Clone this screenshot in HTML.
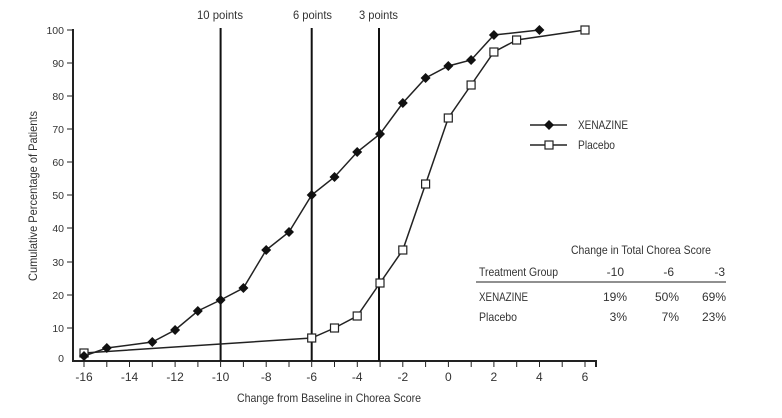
<!DOCTYPE html>
<html><head><meta charset="utf-8"><style>
html,body{margin:0;padding:0;background:#fff;}
svg text{font-family:"Liberation Sans Narrow","Liberation Sans",sans-serif;fill:#333;}
</style></head><body>
<svg width="782" height="413" viewBox="0 0 782 413" xmlns="http://www.w3.org/2000/svg">
<g font-size="10.5">
<line x1="73" y1="29" x2="73" y2="362" stroke="#222" stroke-width="2"/>
<line x1="72" y1="361" x2="597" y2="361" stroke="#222" stroke-width="2"/>
<line x1="596" y1="361" x2="596" y2="367" stroke="#222" stroke-width="2"/>
<g stroke="#222" stroke-width="1">
<line x1="67" y1="30" x2="73" y2="30"/><line x1="67" y1="63" x2="73" y2="63"/><line x1="67" y1="96" x2="73" y2="96"/><line x1="67" y1="129" x2="73" y2="129"/><line x1="67" y1="162" x2="73" y2="162"/><line x1="67" y1="195" x2="73" y2="195"/><line x1="67" y1="228" x2="73" y2="228"/><line x1="67" y1="262" x2="73" y2="262"/><line x1="67" y1="295" x2="73" y2="295"/><line x1="67" y1="328" x2="73" y2="328"/>
</g>
<g text-anchor="end">
<text x="64" y="34">100</text><text x="64" y="67">90</text><text x="64" y="100">80</text><text x="64" y="133">70</text><text x="64" y="166">60</text><text x="64" y="199">50</text><text x="64" y="232">40</text><text x="64" y="266">30</text><text x="64" y="299">20</text><text x="64" y="332">10</text><text x="64" y="362">0</text>
</g>
<g stroke="#222" stroke-width="1">
<line x1="84" y1="361" x2="84" y2="367"/><line x1="106.8" y1="361" x2="106.8" y2="367"/><line x1="129.5" y1="361" x2="129.5" y2="367"/><line x1="152.3" y1="361" x2="152.3" y2="367"/><line x1="175.1" y1="361" x2="175.1" y2="367"/><line x1="197.9" y1="361" x2="197.9" y2="367"/><line x1="220.6" y1="361" x2="220.6" y2="367"/><line x1="243.4" y1="361" x2="243.4" y2="367"/><line x1="266.2" y1="361" x2="266.2" y2="367"/><line x1="289" y1="361" x2="289" y2="367"/><line x1="311.7" y1="361" x2="311.7" y2="367"/><line x1="334.5" y1="361" x2="334.5" y2="367"/><line x1="357.3" y1="361" x2="357.3" y2="367"/><line x1="380.1" y1="361" x2="380.1" y2="367"/><line x1="402.8" y1="361" x2="402.8" y2="367"/><line x1="425.6" y1="361" x2="425.6" y2="367"/><line x1="448.4" y1="361" x2="448.4" y2="367"/><line x1="471.2" y1="361" x2="471.2" y2="367"/><line x1="493.9" y1="361" x2="493.9" y2="367"/><line x1="516.7" y1="361" x2="516.7" y2="367"/><line x1="539.5" y1="361" x2="539.5" y2="367"/><line x1="562.2" y1="361" x2="562.2" y2="367"/><line x1="585" y1="361" x2="585" y2="367"/>
</g>
<g text-anchor="middle" font-size="12">
<text x="84" y="381">-16</text><text x="129.5" y="381">-14</text><text x="175.1" y="381">-12</text><text x="220.6" y="381">-10</text><text x="266.2" y="381">-8</text><text x="311.7" y="381">-6</text><text x="357.2" y="381">-4</text><text x="402.8" y="381">-2</text><text x="448.3" y="381">0</text><text x="493.9" y="381">2</text><text x="539.4" y="381">4</text><text x="585" y="381">6</text>
</g>
<text x="237" y="402" font-size="12" textLength="184" lengthAdjust="spacingAndGlyphs">Change from Baseline in Chorea Score</text>
<text transform="translate(37,196) rotate(-90)" text-anchor="middle" font-size="12" textLength="170" lengthAdjust="spacingAndGlyphs">Cumulative Percentage of Patients</text>
<g stroke="#111" stroke-width="2">
<line x1="220.6" y1="28" x2="220.6" y2="361"/><line x1="311.7" y1="28" x2="311.7" y2="361"/><line x1="379" y1="28" x2="379" y2="361"/>
</g>
<g font-size="12">
<text x="197" y="19" textLength="46" lengthAdjust="spacingAndGlyphs">10 points</text><text x="293" y="19" textLength="39" lengthAdjust="spacingAndGlyphs">6 points</text><text x="359" y="19" textLength="39" lengthAdjust="spacingAndGlyphs">3 points</text>
</g>
<polyline fill="none" stroke="#222" stroke-width="1.5" points="84,356 106.8,348 152.3,342 175.1,330 197.8,311 220.6,300 243.4,288 266.2,250 289,232 311.7,195 334.5,177 357.2,152 380,134 402.8,103 425.6,78 448.3,66 471.1,60 493.9,35 539.4,30"/>
<polyline fill="none" stroke="#222" stroke-width="1.5" points="84,353 311.7,338 334.5,328 357.2,316 380,283 402.8,250 425.6,184 448.3,118 471.1,85 493.9,52 516.6,40 585,30"/>
<g fill="#fff" stroke="#222" stroke-width="1.2">
<rect x="80" y="349" width="8" height="8"/><rect x="307.7" y="334" width="8" height="8"/><rect x="330.5" y="324" width="8" height="8"/><rect x="353.2" y="312" width="8" height="8"/><rect x="376" y="279" width="8" height="8"/><rect x="398.8" y="246" width="8" height="8"/><rect x="421.6" y="180" width="8" height="8"/><rect x="444.3" y="114" width="8" height="8"/><rect x="467.1" y="81" width="8" height="8"/><rect x="489.9" y="48" width="8" height="8"/><rect x="512.6" y="36" width="8" height="8"/><rect x="581" y="26" width="8" height="8"/>
</g>
<g fill="#111">
<path d="M84 351l5 5-5 5-5-5z"/><path d="M106.8 343l5 5-5 5-5-5z"/><path d="M152.3 337l5 5-5 5-5-5z"/><path d="M175.1 325l5 5-5 5-5-5z"/><path d="M197.8 306l5 5-5 5-5-5z"/><path d="M220.6 295l5 5-5 5-5-5z"/><path d="M243.4 283l5 5-5 5-5-5z"/><path d="M266.2 245l5 5-5 5-5-5z"/><path d="M289 227l5 5-5 5-5-5z"/><path d="M311.7 190l5 5-5 5-5-5z"/><path d="M334.5 172l5 5-5 5-5-5z"/><path d="M357.2 147l5 5-5 5-5-5z"/><path d="M380 129l5 5-5 5-5-5z"/><path d="M402.8 98l5 5-5 5-5-5z"/><path d="M425.6 73l5 5-5 5-5-5z"/><path d="M448.3 61l5 5-5 5-5-5z"/><path d="M471.1 55l5 5-5 5-5-5z"/><path d="M493.9 30l5 5-5 5-5-5z"/><path d="M539.4 25l5 5-5 5-5-5z"/>
</g>
<line x1="530" y1="125" x2="567" y2="125" stroke="#222" stroke-width="1.5"/>
<path d="M549 120 L554 125 L549 130 L544 125Z" fill="#111"/>
<line x1="530" y1="145" x2="567" y2="145" stroke="#222" stroke-width="1.5"/>
<rect x="545" y="141" width="8" height="8" fill="#fff" stroke="#222" stroke-width="1.2"/>
<text x="578" y="129" font-size="12" textLength="50" lengthAdjust="spacingAndGlyphs">XENAZINE</text>
<text x="578" y="149" font-size="12" textLength="37" lengthAdjust="spacingAndGlyphs">Placebo</text>
<g font-size="12">
<text x="571" y="254" textLength="140" lengthAdjust="spacingAndGlyphs">Change in Total Chorea Score</text>
<text x="479" y="276" textLength="79" lengthAdjust="spacingAndGlyphs">Treatment Group</text>
<text x="624" y="276" text-anchor="end">-10</text><text x="674" y="276" text-anchor="end">-6</text><text x="725" y="276" text-anchor="end">-3</text>
<line x1="476" y1="282" x2="726" y2="282" stroke="#222" stroke-width="1"/>
<text x="479" y="301" textLength="49" lengthAdjust="spacingAndGlyphs">XENAZINE</text>
<text x="627" y="301" text-anchor="end">19%</text><text x="679" y="301" text-anchor="end">50%</text><text x="726" y="301" text-anchor="end">69%</text>
<text x="479" y="321" textLength="38" lengthAdjust="spacingAndGlyphs">Placebo</text>
<text x="627" y="321" text-anchor="end">3%</text><text x="679" y="321" text-anchor="end">7%</text><text x="726" y="321" text-anchor="end">23%</text>
</g>
</g>
</svg>
</body></html>
